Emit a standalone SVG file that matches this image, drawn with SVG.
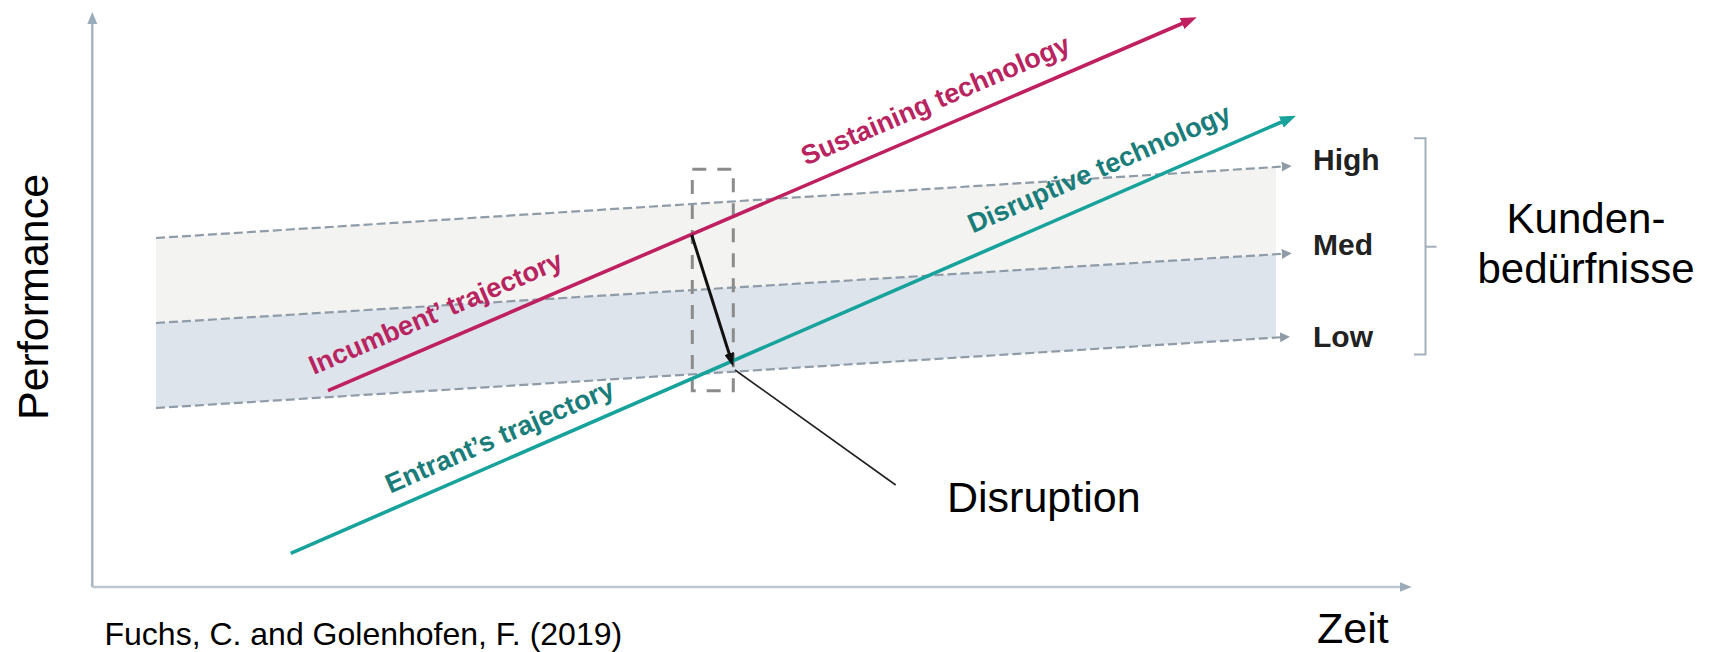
<svg xmlns="http://www.w3.org/2000/svg" width="1709" height="652" viewBox="0 0 1709 652">
  <style>
    .big { font-family: "Liberation Sans", Arial, sans-serif; font-size: 43px; fill: #000; }
    .lvl { font-family: "Liberation Sans", Arial, sans-serif; font-size: 30px; font-weight: bold; fill: #222; }
    .trj { font-family: "Liberation Sans", Arial, sans-serif; font-size: 27px; font-weight: bold; }
    .mag { fill: #b8245f; }
    .teal { fill: #1a7d7a; }
    .need { fill: none; stroke: #8f9ca8; stroke-width: 2.2; stroke-dasharray: 9 4; }
    .axis { fill: none; stroke-width: 2.4; }
  </style>
  <defs>
    <marker id="ahAxis" markerUnits="userSpaceOnUse" viewBox="0 0 12 10" markerWidth="12" markerHeight="10" refX="2" refY="5" orient="auto">
      <path d="M0,0 L12,5 L0,10 z" fill="#9aabb9"/>
    </marker>
    <marker id="ahNeed" markerUnits="userSpaceOnUse" viewBox="0 0 10 10" markerWidth="10" markerHeight="10" refX="2" refY="5" orient="auto">
      <path d="M0,0 L10,5 L0,10 z" fill="#8f9ca8"/>
    </marker>
    <marker id="ahMag" markerUnits="userSpaceOnUse" viewBox="0 0 16 12" markerWidth="16" markerHeight="12" refX="4" refY="6" orient="auto">
      <path d="M0,0 L16,6 L0,12 z" fill="#bf2160"/>
    </marker>
    <marker id="ahTeal" markerUnits="userSpaceOnUse" viewBox="0 0 16 12" markerWidth="16" markerHeight="12" refX="4" refY="6" orient="auto">
      <path d="M0,0 L16,6 L0,12 z" fill="#17a39b"/>
    </marker>
    <marker id="ahBlack" markerUnits="userSpaceOnUse" viewBox="0 0 14 10" markerWidth="14" markerHeight="10" refX="4" refY="5" orient="auto">
      <path d="M0,0 L14,5 L0,10 z" fill="#111"/>
    </marker>
  </defs>

  <rect width="1709" height="652" fill="#fff"/>

  <!-- customer need bands -->
  <g id="bands">
    <polygon points="156,238 1276,167 1276,254.2 156,323" fill="#f3f3f1"/>
    <polygon points="156,323 1276,254.2 1276,337.6 156,408" fill="#dee4eb"/>
  </g>

  <!-- axes -->
  <g id="axes">
    <line class="axis" x1="92.3" y1="587" x2="92.3" y2="22" stroke="#a5b3bf" marker-end="url(#ahAxis)"/>
    <line class="axis" x1="92.3" y1="587" x2="1401.7" y2="587" stroke="#bcc7d0" stroke-width="3" marker-end="url(#ahAxis)"/>
    <text class="big" transform="translate(48,420) rotate(-90)">Performance</text>
    <text class="big" x="1317" y="643">Zeit</text>
  </g>

  <!-- customer need levels -->
  <g id="need-high">
    <line class="need" x1="156" y1="238" x2="1283.7" y2="166.5" marker-end="url(#ahNeed)"/>
    <text class="lvl" x="1313" y="170">High</text>
  </g>
  <g id="need-med">
    <line class="need" x1="156" y1="323" x2="1283.7" y2="253.8" marker-end="url(#ahNeed)"/>
    <text class="lvl" x="1313" y="255">Med</text>
  </g>
  <g id="need-low">
    <line class="need" x1="156" y1="408" x2="1282" y2="337.2" marker-end="url(#ahNeed)"/>
    <text class="lvl" x="1313" y="347">Low</text>
  </g>

  <!-- bracket grouping the levels -->
  <g id="kundenbeduerfnisse">
    <path d="M1414,138.3 H1425.5 V354.5 H1414 M1425.5,246.7 H1436.5" fill="none" stroke="#a3afba" stroke-width="2"/>
    <text class="big" x="1586" y="233" text-anchor="middle" style="font-size:42px">Kunden-</text>
    <text class="big" x="1586" y="283" text-anchor="middle" style="font-size:42px">bedürfnisse</text>
  </g>

  <!-- crossing window -->
  <g id="disruption-window">
    <rect x="692.3" y="169.3" width="41" height="221.4" fill="none" stroke="#8c8c8c" stroke-width="3" stroke-dasharray="14 11"/>
  </g>

  <!-- incumbent / sustaining trajectory -->
  <g id="incumbent">
    <line x1="328" y1="390.7" x2="1185.7" y2="22" stroke="#bf2160" stroke-width="3.6" marker-end="url(#ahMag)"/>
    <g transform="translate(328,390.7) rotate(-23.26)">
      <text class="trj mag" x="-7" y="-20">Incumbent’ trajectory</text>
      <text class="trj mag" x="528" y="-18">Sustaining technology</text>
    </g>
  </g>

  <!-- entrant / disruptive trajectory -->
  <g id="entrant">
    <line x1="290.7" y1="553.3" x2="1285" y2="120.5" stroke="#17a39b" stroke-width="3.6" marker-end="url(#ahTeal)"/>
    <g transform="translate(290.7,553.3) rotate(-23.53)">
      <text class="trj teal" x="115" y="-15">Entrant’s trajectory</text>
      <text class="trj teal" x="753" y="-21">Disruptive technology</text>
    </g>
  </g>

  <!-- disruption arrow and callout -->
  <g id="connectors">
    <line x1="691.7" y1="235" x2="730.3" y2="357.2" stroke="#111" stroke-width="3" marker-end="url(#ahBlack)"/>
    <line x1="735" y1="370" x2="895.7" y2="485" stroke="#222" stroke-width="1.6"/>
  </g>
  <g id="disruption-label">
    <text class="big" x="947" y="512">Disruption</text>
  </g>

  <!-- source -->
  <g id="source">
    <text class="big" x="104.5" y="645" style="font-size:32px">Fuchs, C. and Golenhofen, F. (2019)</text>
  </g>
</svg>
